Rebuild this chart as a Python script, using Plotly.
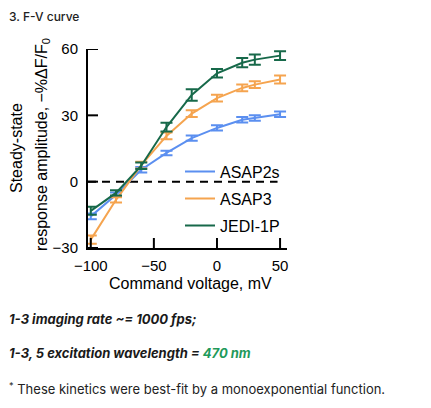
import plotly.graph_objects as go

# ---- data ----
voltages = [-100, -80, -60, -40, -20, 0, 20, 30, 50]
asap2s = [-15.7, -5.9, 5.4, 13.0, 19.7, 24.3, 28.0, 28.8, 30.5]
asap2s_err = [1.3, 1.0, 1.2, 1.0, 1.2, 1.2, 1.2, 1.2, 1.2]
asap3 = [-26.2, -8.2, 7.5, 20.7, 30.8, 37.8, 42.4, 43.9, 46.2]
asap3_err = [1.9, 1.2, 1.5, 1.5, 1.5, 1.5, 1.5, 1.5, 1.8]
jedi = [-13.2, -5.1, 7.2, 24.7, 39.2, 49.0, 53.8, 55.2, 57.0]
jedi_err = [1.8, 1.2, 1.5, 2.0, 2.6, 1.9, 2.1, 2.3, 2.0]

series_names = ["ASAP2s", "ASAP3", "JEDI-1P"]
series_colors = ["#5b8ff0", "#f5a44f", "#17694a"]

x_range = [-102.2, 55.5]
y_range = [-30, 60]
y_ticks = [-30, 0, 30, 60]
x_ticks = [-100, -50, 0, 50]
zero_line_end = 48

W, H = 431, 408
L, R, T, B = 88, 144, 49, 160
PW, PH = W - L - R, H - T - B
TICK_LEN = 10


def px2x(px):
    return (px - L) / PW


def px2y(py):
    return (H - B - py) / PH


FONT = "Liberation Sans, Arial, sans-serif"
PAGE_FONT = "Inter, Noto Sans, sans-serif"

legend_ids = ["legend", "legend2", "legend3"]
legend_tops = [154.5, 181.5, 208.5]

fig = go.Figure()
for name, ys, errs, col, lid in zip(series_names, [asap2s, asap3, jedi],
                                    [asap2s_err, asap3_err, jedi_err],
                                    series_colors, legend_ids):
    fig.add_trace(go.Scatter(
        x=voltages, y=ys, name=name, mode="lines", legend=lid,
        line=dict(color=col, width=2),
        error_y=dict(type="data", array=errs, visible=True,
                     color=col, thickness=2, width=6),
    ))

fig.add_shape(type="line", xref="x", yref="y",
              x0=x_range[0], x1=zero_line_end, y0=0, y1=0,
              line=dict(color="black", width=2, dash="8px,6px"), layer="below")

# inside tick marks, anchored to the axis lines
for tv in x_ticks:
    fig.add_shape(type="line", xref="x", yref="paper", ysizemode="pixel",
                  yanchor=0, x0=tv, x1=tv, y0=0, y1=TICK_LEN,
                  line=dict(color="black", width=2), layer="above")
for tv in y_ticks:
    fig.add_shape(type="line", yref="y", xref="paper", xsizemode="pixel",
                  xanchor=0, y0=tv, y1=tv, x0=0, x1=TICK_LEN,
                  line=dict(color="black", width=2), layer="above")

legend_common = dict(xanchor="left", yanchor="top",
                     font=dict(family=FONT, size=16, color="black"),
                     bgcolor="rgba(0,0,0,0)", borderwidth=0)
layout_legends = {}
for lid, top in zip(legend_ids, legend_tops):
    layout_legends[lid] = dict(x=px2x(180), y=px2y(top), **legend_common)

fig.update_layout(
    width=W, height=H,
    margin=dict(l=L, r=R, t=T, b=B, pad=0),
    paper_bgcolor="white", plot_bgcolor="white",
    font=dict(family=FONT, size=15, color="black"),
    showlegend=True,
    **layout_legends,
)
fig.update_xaxes(range=x_range, tickmode="array", tickvals=x_ticks,
                 ticks="", showline=True, linewidth=2, linecolor="#000000",
                 showgrid=False, zeroline=False, ticklabelstandoff=3,
                 tickfont=dict(family=FONT, size=15, color="black"))
fig.update_yaxes(range=y_range, tickmode="array", tickvals=y_ticks,
                 ticks="", showline=True, linewidth=2, linecolor="#000000",
                 showgrid=False, zeroline=False, ticklabelstandoff=5,
                 tickfont=dict(family=FONT, size=15, color="black"))

annotations = [
    dict(text="Command voltage, mV", x=px2x(190.5), y=px2y(283),
         font=dict(family=FONT, size=16, color="black"),
         xanchor="center", yanchor="middle"),
    dict(text="Steady-state", x=px2x(16), y=px2y(148), textangle=-90,
         font=dict(family=FONT, size=16, color="black"),
         xanchor="center", yanchor="middle"),
    dict(text="response amplitude, \u2212%\u0394F/F<sub>0</sub>", x=px2x(42), y=px2y(145),
         textangle=-90, font=dict(family=FONT, size=16, color="black"),
         xanchor="center", yanchor="middle"),
    dict(text="3. F-V curve", x=px2x(7), y=px2y(16),
         font=dict(family=PAGE_FONT, size=12, color="#222222", weight=500),
         xanchor="left", yanchor="middle"),
    dict(text="<b><i>1-3 imaging rate ~= 1000 fps;</i></b>", x=px2x(7), y=px2y(319),
         font=dict(family=PAGE_FONT, size=13, color="#1a1a1a"),
         xanchor="left", yanchor="middle"),
    dict(text="<b><i>1-3, 5 excitation wavelength = <span style='color:#1f9a5b'>470 nm</span></i></b>",
         x=px2x(7), y=px2y(353),
         font=dict(family=PAGE_FONT, size=13, color="#1a1a1a"),
         xanchor="left", yanchor="middle"),
    dict(text="<sup>*</sup> These kinetics were best-fit by a monoexponential function.",
         x=px2x(7), y=px2y(388),
         font=dict(family=PAGE_FONT, size=13, color="#222222"),
         xanchor="left", yanchor="middle"),
]
for a in annotations:
    a.update(xref="paper", yref="paper", showarrow=False)
    fig.add_annotation(**a)

fig.write_html("out.html")
